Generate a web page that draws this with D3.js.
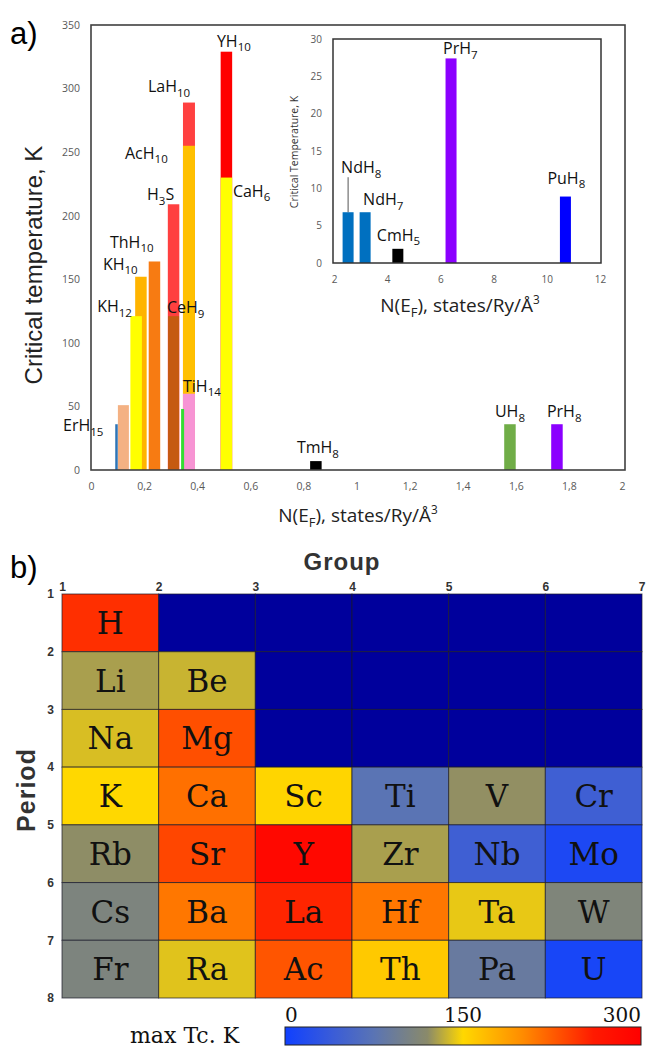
<!DOCTYPE html>
<html>
<head>
<meta charset="utf-8">
<script src="https://cdn.jsdelivr.net/npm/d3@7"></script>
<style>
  body { margin: 0; background: #fff; }
</style>
</head>
<body>
<div id="chart"></div>
<script>
// ---------- panel a) : Tc vs N(EF) for the hydrides ----------
// compounds (digits are drawn as subscripts, "" = bar without label)
var mainNames = ["ErH15", "", "KH12", "KH10", "ThH10", "H3S", "CeH9", "", "LaH10", "AcH10", "TiH14", "YH10", "CaH6", "TmH8", "UH8", "PrH8"];
var mainNEF   = [0.096, 0.122, 0.170, 0.188, 0.239, 0.311, 0.311, 0.345, 0.369, 0.369, 0.369, 0.510, 0.510, 0.847, 1.578, 1.755];
var mainTc    = [36, 51, 121, 152, 164, 209, 121, 48, 289, 255, 60, 329, 230, 7, 36, 36];

// inset (large N(EF))
var insetNames = ["NdH8", "NdH7", "CmH5", "PrH7", "PuH8"];
var insetNEF   = [2.53, 3.17, 4.4, 6.4, 10.7];
var insetTc    = [6.8, 6.8, 1.9, 27.4, 8.9];

var mainYTicks  = [0, 50, 100, 150, 200, 250, 300, 350];
var mainXTicks  = [0, 0.2, 0.4, 0.6, 0.8, 1, 1.2, 1.4, 1.6, 1.8, 2];
var insetYTicks = [0, 5, 10, 15, 20, 25, 30];
var insetXTicks = [2, 4, 6, 8, 10, 12];

// ---------- panel b) : max Tc per element ----------
var groups  = [1, 2, 3, 4, 5, 6];
var periods = [1, 2, 3, 4, 5, 6, 7];
var groupTicks  = [1, 2, 3, 4, 5, 6, 7];
var periodTicks = [1, 2, 3, 4, 5, 6, 7, 8];
var symbols = [
  ["H",  "",   "",   "",   "",   ""],
  ["Li", "Be", "",   "",   "",   ""],
  ["Na", "Mg", "",   "",   "",   ""],
  ["K",  "Ca", "Sc", "Ti", "V",  "Cr"],
  ["Rb", "Sr", "Y",  "Zr", "Nb", "Mo"],
  ["Cs", "Ba", "La", "Hf", "Ta", "W"],
  ["Fr", "Ra", "Ac", "Th", "Pa", "U"]
];
var maxTc = [
  [249, null, null, null, null, null],
  [128, 136,  null, null, null, null],
  [140, 232,  null, null, null, null],
  [150, 215,  152,  75,   122,  45],
  [121, 237,  288,  128,  45,   12],
  [108, 211,  254,  211,  144,  110],
  [108, 142,  229,  160,  88,   8]
];
var colorbarTicks = [0, 150, 300];

// ---------- styles ----------
var mainColors = ["#2e75b6", "#f4b183", "#ffff00", "#ffb400", "#f77b12", "#ff4040", "#c55a11", "#33dd33",
                  "#ff4040", "#ffc000", "#f794d4", "#ff0000", "#ffff00", "#000000", "#70ad47", "#8b00ff"];
var mainWidths = [2.5, 11, 11.5, 11.5, 11.5, 11.5, 11, 3, 12, 12, 12, 11.5, 11.5, 11.5, 11.5, 11.5];
// label offset (px) from bar top-centre to text start / baseline
var mainLabelDx = [-53.5, 0, -39, -38, -44.5, -26.5, -6.6, 0, -41, -64, -6, -9.5, 6.5, -19, -15, -10];
var mainLabelDy = [7, 0, -4, -7, -13.5, -4, -3, 0, -10.5, 13, -2, -5, 19, -8, -7, -7];

var insetColors  = ["#0070c0", "#0070c0", "#000000", "#8b00ff", "#0000ff"];
var insetLabelDx = [-7, -2, -21, -8, -18];
var insetLabelDy = [-39, -7, -8, -4, -13];

var emptyCell = "#00009c";

var W = 646, H = 1048;
var svg = d3.select("#chart").append("svg")
  .attr("width", W)
  .attr("height", H)
  .style("font-family", "'Open Sans', sans-serif");

// text with numeric subscripts ("H3S" -> H, 3 lowered, S)
function formula(sel, name, size) {
  var shift = size * 0.28, low = false;
  name.split(/(\d+)/).filter(function(s) { return s.length; }).forEach(function(p) {
    var t = sel.append("tspan").text(p);
    if (/^\d+$/.test(p)) {
      t.attr("font-size", size * 0.72).attr("dy", low ? 0 : shift);
      low = true;
    } else {
      t.attr("font-size", size);
      if (low) t.attr("dy", -shift);
      low = false;
    }
  });
}

// axis title with E_F subscript and Å^3
function nefTitle(sel, size) {
  sel.append("tspan").text("N(E");
  sel.append("tspan").attr("font-size", size * 0.68).attr("dy", size * 0.28).text("F");
  sel.append("tspan").attr("dy", -size * 0.28).text("), states/Ry/Å");
  sel.append("tspan").attr("font-size", size * 0.62).attr("dy", -size * 0.4).text("3");
}

//////////////////////////////
// a) main chart
var x = d3.scaleLinear().domain([0, 2]).range([91, 622]);
var y = d3.scaleLinear().domain([0, 350]).range([470, 25]);

svg.append("text").attr("x", 10).attr("y", 44)
  .attr("font-family", "'Liberation Sans', Arial, sans-serif")
  .attr("font-size", 31).text("a)");

var yAx = svg.append("g").attr("transform", "translate(91,0)")
  .call(d3.axisLeft(y).tickValues(mainYTicks).tickSize(0).tickPadding(11));
var xAx = svg.append("g").attr("transform", "translate(0,470)")
  .call(d3.axisBottom(x).tickValues(mainXTicks).tickSize(0).tickPadding(13)
    .tickFormat(function(d) { return String(+d.toFixed(1)).replace(".", ","); }));
[yAx, xAx].forEach(function(a) {
  a.select(".domain").remove();
  a.selectAll("text").attr("font-family", "'Open Sans', sans-serif").attr("font-size", 10.5).attr("fill", "#595959");
});

// bars: tallest first so the shorter ones stay visible in front
var mainIdx = d3.range(mainNames.length).sort(function(a, b) { return mainTc[b] - mainTc[a]; });
svg.append("g").selectAll("rect")
  .data(mainIdx)
  .enter()
  .append("rect")
  .attr("x", function(i) { return x(mainNEF[i]) - mainWidths[i] / 2; })
  .attr("y", function(i) { return y(mainTc[i]); })
  .attr("width", function(i) { return mainWidths[i]; })
  .attr("height", function(i) { return y(0) - y(mainTc[i]); })
  .attr("fill", function(i) { return mainColors[i]; });

svg.append("rect").attr("x", 91).attr("y", 25).attr("width", 534).attr("height", 445)
  .attr("fill", "none").attr("stroke", "#404040").attr("stroke-width", 1.6);

d3.range(mainNames.length).forEach(function(i) {
  if (!mainNames[i]) return;
  var t = svg.append("text")
    .attr("x", x(mainNEF[i]) + mainLabelDx[i])
    .attr("y", y(mainTc[i]) + mainLabelDy[i])
    .attr("fill", "#111");
  formula(t, mainNames[i], 16);
});

svg.append("text")
  .attr("transform", "translate(42,265) rotate(-90)")
  .attr("text-anchor", "middle")
  .attr("font-family", "'Liberation Sans', Arial, sans-serif")
  .attr("font-size", 24)
  .attr("fill", "#222")
  .text("Critical temperature, K");

nefTitle(svg.append("text").attr("x", 358).attr("y", 522).attr("text-anchor", "middle")
  .attr("font-size", 19).attr("fill", "#222"), 19);

//////////////////////////////
// inset
var xi = d3.scaleLinear().domain([2, 12]).range([334, 600]);
var yi = d3.scaleLinear().domain([0, 30]).range([263, 39]);

var yiAx = svg.append("g").attr("transform", "translate(333,0)")
  .call(d3.axisLeft(yi).tickValues(insetYTicks).tickSize(0).tickPadding(11));
var xiAx = svg.append("g").attr("transform", "translate(0,263)")
  .call(d3.axisBottom(xi).tickValues(insetXTicks).tickSize(0).tickPadding(13));
[yiAx, xiAx].forEach(function(a) {
  a.select(".domain").remove();
  a.selectAll("text").attr("font-family", "'Open Sans', sans-serif").attr("font-size", 10).attr("fill", "#595959");
});

svg.append("g").selectAll("rect")
  .data(insetNames)
  .enter()
  .append("rect")
  .attr("x", function(d, i) { return xi(insetNEF[i]) - 5.5; })
  .attr("y", function(d, i) { return yi(insetTc[i]); })
  .attr("width", 11)
  .attr("height", function(d, i) { return yi(0) - yi(insetTc[i]); })
  .attr("fill", function(d, i) { return insetColors[i]; });

svg.append("rect").attr("x", 333).attr("y", 39).attr("width", 268).attr("height", 224)
  .attr("fill", "none").attr("stroke", "#333").attr("stroke-width", 1.5);

insetNames.forEach(function(n, i) {
  var t = svg.append("text")
    .attr("x", xi(insetNEF[i]) + insetLabelDx[i])
    .attr("y", yi(insetTc[i]) + insetLabelDy[i])
    .attr("fill", "#111");
  formula(t, n, 16);
});
// leader line for NdH8
svg.append("line")
  .attr("x1", xi(insetNEF[0])).attr("x2", xi(insetNEF[0]))
  .attr("y1", yi(insetTc[0]) - 35).attr("y2", yi(insetTc[0]))
  .attr("stroke", "#555").attr("stroke-width", 1);

svg.append("text")
  .attr("transform", "translate(298,152) rotate(-90)")
  .attr("text-anchor", "middle")
  .attr("font-size", 10.5)
  .attr("fill", "#333")
  .text("Critical Temperature, K");

nefTitle(svg.append("text").attr("x", 460).attr("y", 312).attr("text-anchor", "middle")
  .attr("font-size", 19).attr("fill", "#222"), 19);

//////////////////////////////
// b) periodic-table heat map
var gx = d3.scaleLinear().domain([1, 7]).range([62, 642]);
var gy = d3.scaleLinear().domain([1, 8]).range([594, 998]);
var color = d3.scaleLinear()
  .domain([0, 40, 75, 120, 150, 200, 260, 300])
  .range(["#1040ff", "#3a5cd8", "#5a74b4", "#8a8a6a", "#ffd800", "#ff8c00", "#ff1a00", "#ff0000"]);

svg.append("text").attr("x", 10).attr("y", 578)
  .attr("font-family", "'Liberation Sans', Arial, sans-serif")
  .attr("font-size", 31).text("b)");

svg.append("text").attr("x", 342).attr("y", 570).attr("text-anchor", "middle")
  .attr("font-family", "'Liberation Sans', Arial, sans-serif")
  .attr("font-weight", "bold").attr("font-size", 24).attr("letter-spacing", 1).attr("fill", "#333")
  .text("Group");

svg.append("text")
  .attr("transform", "translate(35,790) rotate(-90)")
  .attr("text-anchor", "middle")
  .attr("font-family", "'Liberation Sans', Arial, sans-serif")
  .attr("font-weight", "bold").attr("font-size", 25).attr("letter-spacing", 1).attr("fill", "#333")
  .text("Period");

var cells = [];
periods.forEach(function(p, r) {
  groups.forEach(function(g, c) {
    cells.push({ g: g, p: p, sym: symbols[r][c], v: maxTc[r][c] });
  });
});

var cell = svg.append("g").selectAll("g")
  .data(cells)
  .enter()
  .append("g");
cell.append("rect")
  .attr("x", function(d) { return gx(d.g); })
  .attr("y", function(d) { return gy(d.p); })
  .attr("width", function(d) { return gx(d.g + 1) - gx(d.g); })
  .attr("height", function(d) { return gy(d.p + 1) - gy(d.p); })
  .attr("fill", function(d) { return d.v == null ? emptyCell : color(d.v); })
  .attr("stroke", "#1a1a2a")
  .attr("stroke-opacity", 0.7)
  .attr("stroke-width", 1);
cell.append("text")
  .attr("x", function(d) { return (gx(d.g) + gx(d.g + 1)) / 2; })
  .attr("y", function(d) { return (gy(d.p) + gy(d.p + 1)) / 2; })
  .attr("dy", "0.36em")
  .attr("text-anchor", "middle")
  .attr("font-family", "'DejaVu Serif', serif")
  .attr("font-size", 31)
  .attr("fill", "#111")
  .text(function(d) { return d.sym; });

var gxAx = svg.append("g").attr("transform", "translate(0,594)")
  .call(d3.axisTop(gx).tickValues(groupTicks).tickFormat(d3.format("d")).tickSize(0).tickPadding(3));
var gyAx = svg.append("g").attr("transform", "translate(62,0)")
  .call(d3.axisLeft(gy).tickValues(periodTicks).tickFormat(d3.format("d")).tickSize(0).tickPadding(8));
[gxAx, gyAx].forEach(function(a) {
  a.select(".domain").remove();
  a.selectAll("text").attr("font-family", "'Liberation Sans', Arial, sans-serif")
    .attr("font-weight", "bold").attr("font-size", 12).attr("fill", "#333");
});
// last group label sits at the right edge of the grid
gxAx.selectAll(".tick").filter(function(d) { return d === 7; }).select("text").attr("text-anchor", "end").attr("dx", 3);

// colour bar
var cb = d3.scaleLinear().domain([0, 300]).range([285, 641]);
var grad = svg.append("defs").append("linearGradient").attr("id", "tcgrad")
  .attr("x1", "0%").attr("x2", "100%").attr("y1", "0%").attr("y2", "0%");
grad.selectAll("stop")
  .data(color.domain())
  .enter()
  .append("stop")
  .attr("offset", function(d) { return (d / 300 * 100) + "%"; })
  .attr("stop-color", function(d) { return color(d); });

svg.append("rect").attr("x", cb(0)).attr("y", 1027).attr("width", cb(300) - cb(0)).attr("height", 18)
  .attr("fill", "url(#tcgrad)").attr("stroke", "#222").attr("stroke-width", 1);

svg.append("g").selectAll("text")
  .data(colorbarTicks)
  .enter()
  .append("text")
  .attr("x", function(d) { return cb(d); })
  .attr("y", 1022)
  .attr("text-anchor", function(d, i) { return i === 0 ? "start" : (i === colorbarTicks.length - 1 ? "end" : "middle"); })
  .attr("font-family", "'DejaVu Serif', serif")
  .attr("font-size", 20)
  .attr("fill", "#111")
  .text(function(d) { return d; });

svg.append("text").attr("x", 130).attr("y", 1043)
  .attr("font-family", "'DejaVu Serif', serif")
  .attr("font-size", 22)
  .attr("fill", "#111")
  .text("max Tc. K");
</script>
</body>
</html>
